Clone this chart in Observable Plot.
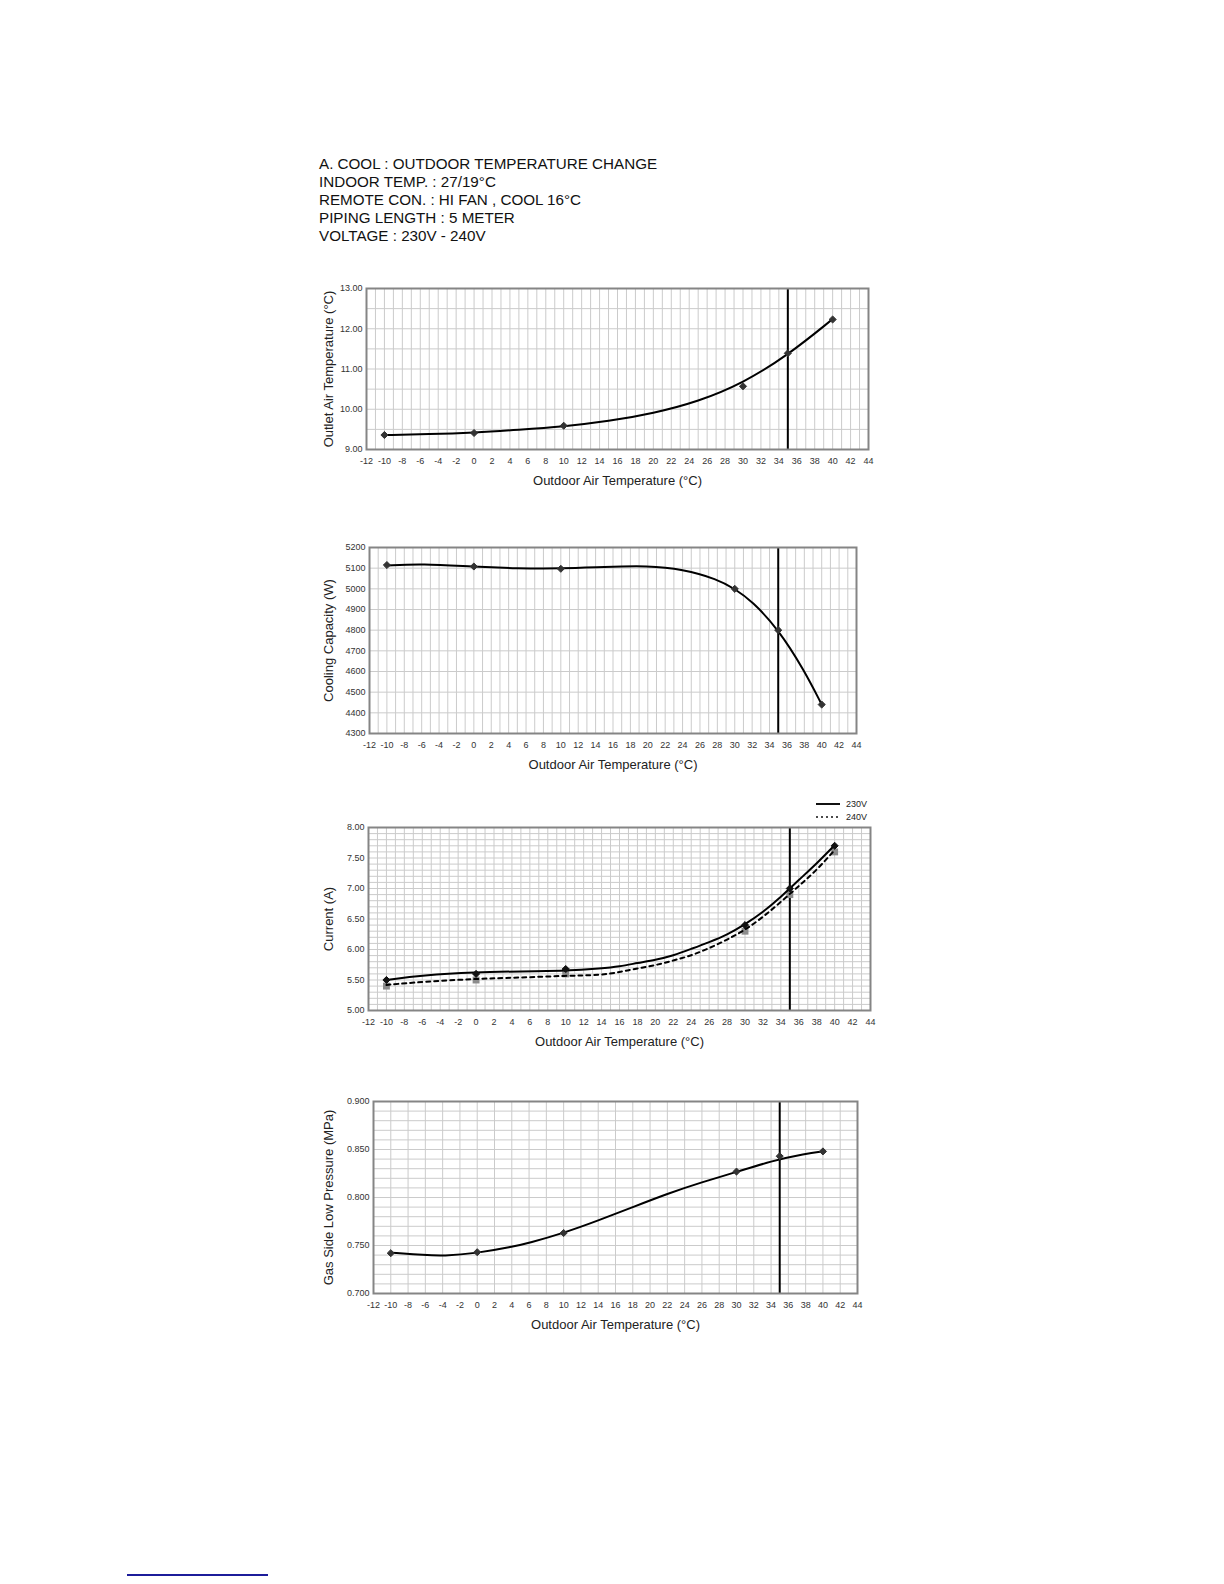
<!DOCTYPE html>
<html>
<head>
<meta charset="utf-8">
<script src="https://cdn.jsdelivr.net/npm/d3@7"></script>
<script src="https://cdn.jsdelivr.net/npm/@observablehq/plot@0.6"></script>
<style>
  body { margin: 0; background: #fff; font-family: "Liberation Sans", Arial, sans-serif; }
  #page { position: relative; width: 1224px; height: 1584px; overflow: hidden; }
  .chart { position: absolute; }
  #header { position: absolute; left: 319px; top: 155px; font-size: 15.2px; line-height: 18px; color: #111; white-space: pre; }
  #legend { position: absolute; left: 815px; top: 797px; font-size: 9px; color: #222; }
  #legend .row { display: flex; align-items: center; height: 13px; }
  #legend svg { margin-right: 5px; }
  #footline { position: absolute; left: 127px; top: 1574px; width: 141px; height: 2px; background: #1c1c9a; }
</style>
</head>
<body>
<div id="page">
  <div id="header"></div>
  <div id="c1" class="chart"></div>
  <div id="c2" class="chart"></div>
  <div id="c3" class="chart"></div>
  <div id="legend"></div>
  <div id="c4" class="chart"></div>
  <div id="footline"></div>
</div>
<script>
// ---------- header text ----------
const headerLines = [
  "A. COOL : OUTDOOR TEMPERATURE CHANGE",
  "INDOOR TEMP. : 27/19°C",
  "REMOTE CON. : HI FAN , COOL 16°C",
  "PIPING LENGTH : 5 METER",
  "VOLTAGE : 230V - 240V"
];

// ---------- shared x ----------
const xTicks = [-12, -10, -8, -6, -4, -2, 0, 2, 4, 6, 8, 10, 12, 14, 16, 18, 20, 22, 24, 26, 28, 30, 32, 34, 36, 38, 40, 42, 44];
const xTitle = "Outdoor Air Temperature (°C)";
const ratedTemp = [35];
const measuredX = [-10, 0, 10, 30, 35, 40];

// ---------- chart 1: outlet air temperature ----------
const outletTitle = "Outlet Air Temperature (°C)";
const outletTicks = [9, 10, 11, 12, 13];
const outletPoints = [9.36, 9.41, 9.59, 10.57, 11.39, 12.23];
const outletTrendX = [-10, -5, 0, 5, 10, 15, 20, 25, 30, 35, 40];
const outletTrend = [9.36, 9.38, 9.42, 9.49, 9.57, 9.70, 9.90, 10.19, 10.65, 11.34, 12.24];

// ---------- chart 2: cooling capacity ----------
const capTitle = "Cooling Capacity (W)";
const capTicks = [4300, 4400, 4500, 4600, 4700, 4800, 4900, 5000, 5100, 5200];
const capPoints = [5115, 5108, 5097, 5000, 4800, 4440];
const capTrendX = [-10, -6, 0, 5, 10, 15, 20, 24, 28, 30, 32, 35, 38, 40];
const capTrend = [5113, 5122, 5107, 5099, 5098, 5106, 5112, 5095, 5047, 5000, 4940, 4805, 4605, 4440];

// ---------- chart 3: current ----------
const curTitle = "Current (A)";
const curTicks = [5, 5.5, 6, 6.5, 7, 7.5, 8];
const cur230Points = [5.50, 5.60, 5.68, 6.40, 7.00, 7.70];
const cur240Points = [5.40, 5.50, 5.60, 6.30, 6.90, 7.60];
const curTrendX = [-10, -6, 0, 5, 10, 14, 16, 18, 20, 22, 24, 26, 28, 30, 32, 34, 36, 38, 40];
const cur230Trend = [5.50, 5.58, 5.63, 5.64, 5.65, 5.69, 5.72, 5.78, 5.83, 5.90, 6.01, 6.12, 6.24, 6.41, 6.61, 6.86, 7.14, 7.41, 7.71];
const cur240Trend = [5.42, 5.47, 5.52, 5.54, 5.57, 5.58, 5.63, 5.69, 5.74, 5.82, 5.90, 6.02, 6.16, 6.32, 6.53, 6.78, 7.04, 7.30, 7.63];
const legendLabels = ["230V", "240V"];

// ---------- chart 4: gas side low pressure ----------
const presTitle = "Gas Side Low Pressure (MPa)";
const presTicks = [0.70, 0.75, 0.80, 0.85, 0.90];
const presPoints = [0.742, 0.743, 0.763, 0.827, 0.843, 0.848];
const presTrendX = [-10, -6, -4, 0, 4, 6, 10, 14, 18, 22, 26, 30, 34, 38, 40];
const presTrend = [0.7425, 0.740, 0.739, 0.742, 0.7485, 0.7527, 0.763, 0.776, 0.790, 0.804, 0.816, 0.8265, 0.838, 0.8456, 0.848];

// ---------- helpers ----------
const zip = (xs, ys) => xs.map((x, i) => ({x, y: ys[i]}));
const FONT = "'Liberation Sans', Arial, Helvetica, sans-serif";
const ML = 70, MR = 20, MT = 10, MB = 45;
const LABEL_X = 328; // page x of y-axis title centre
const marker = (color) => ({x: "x", y: "y", symbol: "diamond2", r: 3.2, fill: color, stroke: color, strokeWidth: 1});

function makeChart({el, left, top, frameW, frameH, yDomain, yTicks, yFormat, yGrid, xGrid, yTitle, marks}) {
  const node = Plot.plot({
    width: ML + frameW + MR,
    height: MT + frameH + MB,
    marginLeft: ML, marginRight: MR, marginTop: MT, marginBottom: MB,
    style: {fontFamily: FONT, background: "transparent", overflow: "visible", color: "#222"},
    x: {domain: [-12, 44]},
    y: {domain: yDomain},
    marks: [
      Plot.gridX({ticks: xGrid, stroke: "#cbcbcb", strokeOpacity: 1, strokeWidth: 1}),
      Plot.gridY({ticks: yGrid, stroke: "#cbcbcb", strokeOpacity: 1, strokeWidth: 1}),
      Plot.axisX({ticks: xTicks, tickSize: 0, tickPadding: 8, fontSize: 9, fill: "#333", tickFormat: d => String(d), label: null}),
      Plot.axisY({ticks: yTicks, tickSize: 0, tickPadding: 4, fontSize: 9, fill: "#333", tickFormat: yFormat, label: null}),
      Plot.text([xTitle], {text: d => d, frameAnchor: "bottom", textAnchor: "middle", lineAnchor: "middle", dy: 31, fontSize: 13, fill: "#222"}),
      Plot.text([yTitle], {text: d => d, frameAnchor: "left", textAnchor: "middle", lineAnchor: "middle", dx: -(left + ML - LABEL_X), rotate: -90, fontSize: 13, fill: "#222"}),
      Plot.ruleX(ratedTemp, {stroke: "#000", strokeWidth: 2}),
      ...marks,
      Plot.frame({stroke: "#858585", strokeWidth: 2})
    ]
  });
  const div = document.getElementById(el);
  div.style.left = (left) + "px";
  div.style.top = (top) + "px";
  div.appendChild(node);
}

const every = (a, b, step, k = 1) => d3.range(Math.round(a * k), Math.round(b * k) + 1, Math.round(step * k)).map(v => v / k);

// header
document.getElementById("header").textContent = headerLines.join("\n");

// chart 1
makeChart({
  el: "c1", left: 366 - ML, top: 288 - MT, frameW: 502, frameH: 161,
  yDomain: [9, 13], yTicks: outletTicks, yFormat: d => d.toFixed(2),
  yGrid: every(9, 13, 0.5, 10), xGrid: every(-12, 44, 1),
  yTitle: outletTitle,
  marks: [
    Plot.line(zip(outletTrendX, outletTrend), {x: "x", y: "y", curve: "basis", stroke: "#000", strokeWidth: 2}),
    Plot.dot(zip(measuredX, outletPoints), marker("#333"))
  ]
});

// chart 2
makeChart({
  el: "c2", left: 369 - ML, top: 547 - MT, frameW: 487, frameH: 186,
  yDomain: [4300, 5200], yTicks: capTicks, yFormat: d => String(d),
  yGrid: every(4300, 5200, 100), xGrid: every(-12, 44, 1),
  yTitle: capTitle,
  marks: [
    Plot.line(zip(capTrendX, capTrend), {x: "x", y: "y", curve: "basis", stroke: "#000", strokeWidth: 2}),
    Plot.dot(zip(measuredX, capPoints), marker("#333"))
  ]
});

// chart 3
makeChart({
  el: "c3", left: 368 - ML, top: 827 - MT, frameW: 502, frameH: 183,
  yDomain: [5, 8], yTicks: curTicks, yFormat: d => d.toFixed(2),
  yGrid: every(5, 8, 0.1, 10), xGrid: every(-12, 44, 1),
  yTitle: curTitle,
  marks: [
    Plot.dot(zip(measuredX, cur240Points), {x: "x", y: "y", symbol: "square", r: 3.9, fill: "#8c8c8c"}),
    Plot.line(zip(curTrendX, cur240Trend), {x: "x", y: "y", curve: "basis", stroke: "#000", strokeWidth: 2, strokeDasharray: "4,4"}),
    Plot.line(zip(curTrendX, cur230Trend), {x: "x", y: "y", curve: "basis", stroke: "#000", strokeWidth: 2}),
    Plot.dot(zip(measuredX, cur230Points), marker("#111"))
  ]
});

// legend for chart 3
{
  const lg = document.getElementById("legend");
  const dashes = [null, "2,3"];
  legendLabels.forEach((lab, i) => {
    const row = document.createElement("div");
    row.className = "row";
    row.innerHTML = `<svg width="26" height="6"><line x1="1" y1="3" x2="25" y2="3" stroke="#111" stroke-width="${i === 0 ? 2 : 1.5}" ${dashes[i] ? `stroke-dasharray="${dashes[i]}"` : ""}/></svg><span>${lab}</span>`;
    lg.appendChild(row);
  });
}

// chart 4
makeChart({
  el: "c4", left: 373 - ML, top: 1101 - MT, frameW: 484, frameH: 192,
  yDomain: [0.7, 0.9], yTicks: presTicks, yFormat: d => d.toFixed(3),
  yGrid: every(0.7, 0.9, 0.01, 100), xGrid: every(-12, 44, 2),
  yTitle: presTitle,
  marks: [
    Plot.line(zip(presTrendX, presTrend), {x: "x", y: "y", curve: "basis", stroke: "#000", strokeWidth: 2}),
    Plot.dot(zip(measuredX, presPoints), marker("#333"))
  ]
});
</script>
</body>
</html>
